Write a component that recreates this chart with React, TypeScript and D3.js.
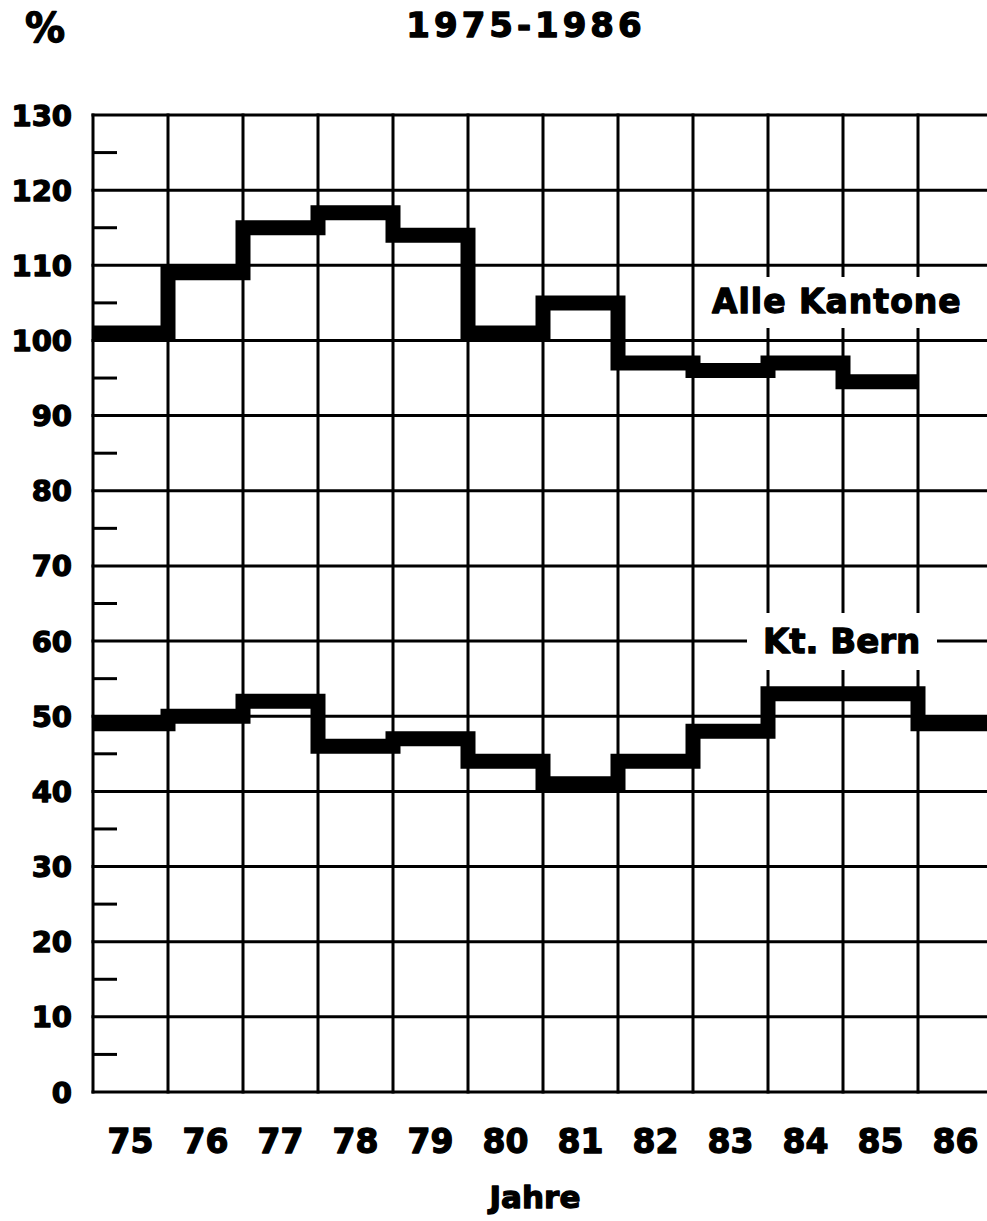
import React from "react";
import * as d3 from "d3";

const years = ["75", "76", "77", "78", "79", "80", "81", "82", "83", "84", "85", "86"];
const alleKantone = [101, 109, 115, 117, 114, 101, 105, 97, 96, 97, 94.5];
const ktBern = [49, 50, 52, 46, 47, 44, 41, 44, 48, 53, 53, 49];
const yTicks = [0, 10, 20, 30, 40, 50, 60, 70, 80, 90, 100, 110, 120, 130];
const yMinorTicks = [5, 15, 25, 35, 45, 55, 65, 75, 85, 95, 105, 115, 125];

const W = 987;
const H = 1221;
const FONT = "'DejaVu Sans', sans-serif";
const TS = { stroke: "#000", strokeWidth: 1.3, strokeLinejoin: "round" as const };

export default function App() {
  const x = d3.scaleLinear().domain([0, 12]).range([93, 993]);
  const y = d3.scaleLinear().domain([0, 130]).range([1092, 115]);

  const stepLine = d3
    .line<[number, number]>()
    .x((d) => x(d[0]))
    .y((d) => y(d[1]))
    .curve(d3.curveStepAfter);

  const pts = (vals: number[]): [number, number][] => {
    const p: [number, number][] = vals.map((v, i) => [i, v]);
    p.push([vals.length, vals[vals.length - 1]]);
    return p;
  };

  const gridW = 3;

  return (
    <svg
      width={W}
      height={H}
      viewBox={`0 0 ${W} ${H}`}
      style={{ position: "absolute", left: 0, top: 0, background: "#fff" }}
    >
      <rect x={0} y={0} width={W} height={H} fill="#fff" />
      {/* horizontal grid lines */}
      {yTicks.map((t) => (
        <line
          key={"h" + t}
          x1={x(0) - 1.5}
          x2={W}
          y1={y(t)}
          y2={y(t)}
          stroke="#000"
          strokeWidth={gridW}
        />
      ))}
      {/* vertical grid lines */}
      {d3.range(0, 13).map((i) => (
        <line
          key={"v" + i}
          x1={x(i)}
          x2={x(i)}
          y1={y(130) - 1.5}
          y2={y(0) + 1.5}
          stroke="#000"
          strokeWidth={gridW}
        />
      ))}
      {/* minor ticks */}
      {yMinorTicks.map((t) => (
        <line
          key={"m" + t}
          x1={x(0)}
          x2={x(0) + 24}
          y1={y(t)}
          y2={y(t)}
          stroke="#000"
          strokeWidth={gridW}
        />
      ))}
      {/* label background boxes */}
      <rect x={700} y={277} width={280} height={51} fill="#fff" />
      <rect x={747} y={613} width={190} height={57} fill="#fff" />

      {/* series */}
      <path
        d={stepLine(pts(alleKantone)) || ""}
        fill="none"
        stroke="#000"
        strokeWidth={15}
        strokeLinejoin="miter"
      />
      <path
        d={stepLine(pts(ktBern)) || ""}
        fill="none"
        stroke="#000"
        strokeWidth={15}
        strokeLinejoin="miter"
      />

      {/* labels */}
      <text x={712} y={313} fontFamily={FONT} fontWeight="bold" fontSize={33} letterSpacing={1} {...TS}>
        Alle Kantone
      </text>
      <text x={763} y={653} fontFamily={FONT} fontWeight="bold" fontSize={34} {...TS}>
        Kt. Bern
      </text>

      {/* y tick labels */}
      {yTicks.map((t) => (
        <text
          key={"yl" + t}
          x={72}
          y={y(t) + 10.5}
          textAnchor="end"
          fontFamily={FONT}
          fontWeight="bold"
          fontSize={29}
          {...TS}
        >
          {t}
        </text>
      ))}

      {/* x tick labels */}
      {years.map((yr, i) => (
        <text
          key={"xl" + yr}
          x={x(i + 0.5)}
          y={1153}
          textAnchor="middle"
          fontFamily={FONT}
          fontWeight="bold"
          fontSize={33}
          {...TS}
        >
          {yr}
        </text>
      ))}

      {/* titles */}
      <text x={526} y={37} textAnchor="middle" fontFamily={FONT} fontWeight="bold" fontSize={34} letterSpacing={4} {...TS}>
        1975-1986
      </text>
      <text x={45} y={42} textAnchor="middle" fontFamily={FONT} fontWeight="bold" fontSize={40} {...TS}>
        %
      </text>
      <text x={535} y={1208} textAnchor="middle" fontFamily={FONT} fontWeight="bold" fontSize={31} {...TS}>
        Jahre
      </text>
    </svg>
  );
}
